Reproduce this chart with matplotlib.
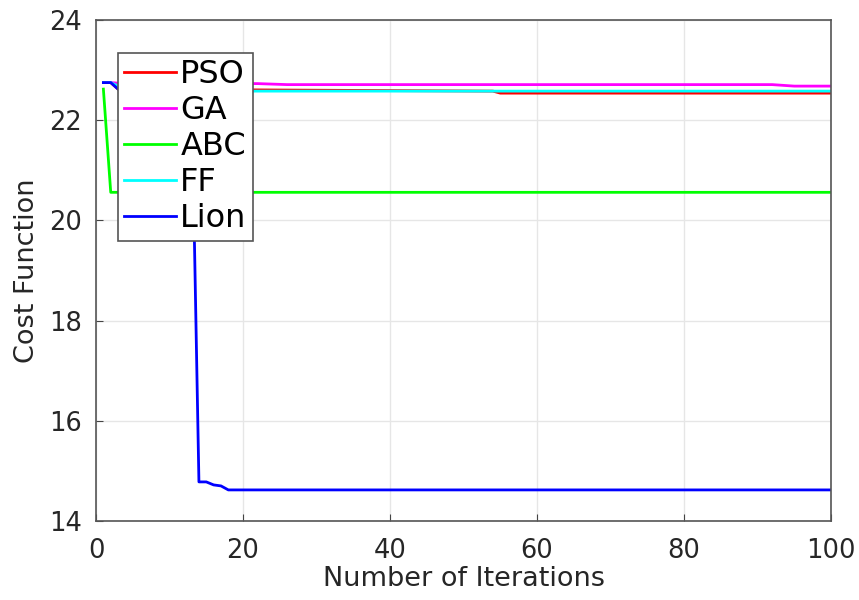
import matplotlib
matplotlib.use("Agg")
import matplotlib.pyplot as plt

plt.rcParams['font.family'] = ['DejaVu Sans']

# Data (breakpoints)
pso_x = [1, 2, 3, 27, 54, 55, 100]
pso_y = [22.75, 22.75, 22.62, 22.60, 22.58, 22.54, 22.54]
ga_x = [1, 2, 3, 22, 26, 92, 95, 100]
ga_y = [22.75, 22.75, 22.74, 22.73, 22.71, 22.71, 22.68, 22.68]
abc_x = [1, 2, 100]
abc_y = [22.62, 20.56, 20.56]
ff_x = [1, 2, 3, 4, 100]
ff_y = [22.75, 22.75, 22.68, 22.58, 22.58]
lion_x = [1, 2, 3, 13, 14, 15, 16, 17, 18, 100]
lion_y = [22.75, 22.75, 22.62, 22.62, 14.78, 14.78, 14.72, 14.70, 14.62, 14.62]

labels = ['PSO', 'GA', 'ABC', 'FF', 'Lion']
colors = ['#ff0000', '#ff00ff', '#00ff00', '#00ffff', '#0000ff']
xticks = [0, 20, 40, 60, 80, 100]
yticks = [14, 16, 18, 20, 22, 24]

fig = plt.figure(figsize=(8.59, 6.0), dpi=100)
ax = fig.add_axes([0.1118, 0.1317, 0.8556, 0.835])

series = [(pso_x, pso_y), (ga_x, ga_y), (abc_x, abc_y), (ff_x, ff_y), (lion_x, lion_y)]
for (xs, ys), lab, c in zip(series, labels, colors):
    ax.plot(xs, ys, color=c, lw=2.0, label=lab)

ax.set_xlim(0, 100)
ax.set_ylim(14, 24)
ax.set_xticks(xticks)
ax.set_yticks(yticks)
ax.grid(True, color='#e6e6e6', lw=1.0)
ax.set_axisbelow(True)
ax.tick_params(direction='in', length=5, color='#444444', labelsize=18.5, labelcolor='#262626')
ax.tick_params(axis='x', pad=12)
ax.tick_params(axis='y', pad=10)
for sp in ax.spines.values():
    sp.set_color('#555555')
    sp.set_linewidth(1.2)

ax.set_xlabel('Number of Iterations', fontsize=19.5, color='#262626', labelpad=2)
ax.set_ylabel('Cost Function', fontsize=19.5, color='#262626', labelpad=7)

leg = ax.legend(loc='upper left', bbox_to_anchor=(0.0299, 0.935), fontsize=23,
                frameon=True, fancybox=False, handlelength=1.6, handletextpad=0.15,
                borderpad=0.2, labelspacing=0.16, borderaxespad=0)
leg.get_frame().set_edgecolor('#555555')
leg.get_frame().set_linewidth(1.2)
leg.get_frame().set_alpha(1.0)

fig.savefig('out.png', dpi=100)
